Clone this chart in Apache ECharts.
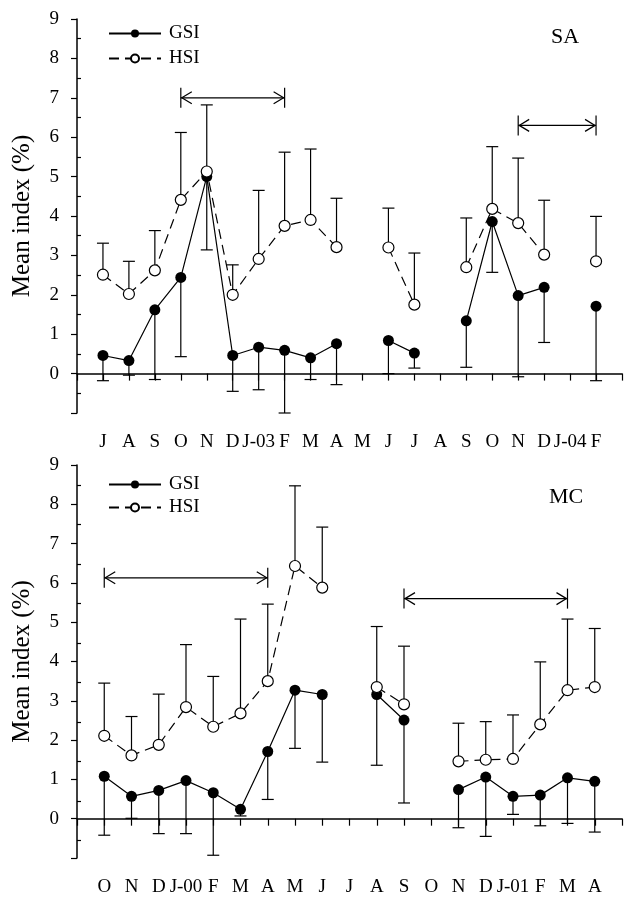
<!DOCTYPE html>
<html lang="en">
<head>
    <meta charset="UTF-8">
    <title>Mean index SA / MC</title>
    <script src="https://cdn.jsdelivr.net/npm/echarts@6.0.0/dist/echarts.min.js"></script>
    <style>
        html, body { margin: 0; padding: 0; background: #fff; }
        #chart { width: 625px; height: 897px; }
    </style>
</head>
<body>
    <div id="chart"></div>

    <script>
        // SA panel: Jul 2002 - Feb 2004
        var catsSA = ['J', 'A', 'S', 'O', 'N', 'D', 'J-03', 'F', 'M', 'A', 'M', 'J', 'J', 'A', 'S', 'O', 'N', 'D', 'J-04', 'F'];
        var gsiSA = [0.46, 0.33, 1.62, 2.44, 5.0, 0.46, 0.67, 0.59, 0.40, 0.76, null, 0.84, 0.52, null, 1.34, 3.86, 1.98, 2.19, null, 1.71];
        var gsiLowSA = [-0.18, -0.04, -0.15, 0.43, 3.14, -0.45, -0.41, -1.0, -0.15, -0.28, null, 0.0, 0.14, null, 0.16, 2.57, -0.08, 0.79, null, -0.18];
        var hsiSA = [2.51, 2.02, 2.62, 4.41, 5.13, 2.0, 2.91, 3.75, 3.9, 3.21, null, 3.2, 1.75, null, 2.7, 4.18, 3.82, 3.02, null, 2.85];
        var hsiUpSA = [3.31, 2.85, 3.63, 6.12, 6.82, 2.76, 4.65, 5.62, 5.70, 4.45, null, 4.2, 3.06, null, 3.95, 5.76, 5.47, 4.4, null, 3.99];
        // spawning periods: [from index, to index, level]
        var periodsSA = [[4, 8, 7.0], [17, 20, 6.3]];

        // MC panel: Oct 1999 - Apr 2001
        var catsMC = ['O', 'N', 'D', 'J-00', 'F', 'M', 'A', 'M', 'J', 'J', 'A', 'S', 'O', 'N', 'D', 'J-01', 'F', 'M', 'A'];
        var gsiMC = [1.08, 0.57, 0.72, 0.97, 0.66, 0.24, 1.71, 3.27, 3.16, null, 3.16, 2.51, null, 0.74, 1.06, 0.57, 0.6, 1.04, 0.95];
        var gsiLowMC = [-0.42, 0.01, -0.38, -0.38, -0.93, 0.07, 0.49, 1.79, 1.44, null, 1.36, 0.4, null, -0.23, -0.45, 0.11, -0.18, -0.12, -0.34];
        var hsiMC = [2.11, 1.61, 1.88, 2.84, 2.34, 2.68, 3.5, 6.43, 5.88, null, 3.35, 2.91, null, 1.46, 1.5, 1.52, 2.4, 3.27, 3.35];
        var hsiUpMC = [3.45, 2.6, 3.17, 4.43, 3.62, 5.08, 5.46, 8.47, 7.42, null, 4.89, 4.39, null, 2.43, 2.47, 2.64, 3.99, 5.08, 4.84];
        var periodsMC = [[1, 7, 6.13], [12, 18, 5.6]];

        var yTicks = { min: -1, max: 9, interval: 1 };

        var FONT = '"Liberation Serif", "Times New Roman", serif';
        var chart = echarts.init(document.getElementById('chart'));

        function pairs(vals) {
            return vals.map(function (v, i) { return [i + 1, v == null ? '-' : v]; });
        }
        function errData(mean, end) {
            var out = [];
            mean.forEach(function (v, i) {
                if (v != null && end[i] != null) out.push([i + 1, v, end[i]]);
            });
            return out;
        }

        function renderErr(params, api) {
            var p0 = api.coord([api.value(0), api.value(1)]);
            var p1 = api.coord([api.value(0), api.value(2)]);
            var st = { stroke: '#000', lineWidth: 1.2 };
            return {
                type: 'group',
                children: [
                    { type: 'line', shape: { x1: p0[0], y1: p0[1], x2: p1[0], y2: p1[1] }, style: st },
                    { type: 'line', shape: { x1: p1[0] - 6, y1: p1[1], x2: p1[0] + 6, y2: p1[1] }, style: st }
                ]
            };
        }

        function renderArrow(params, api) {
            var a = api.coord([api.value(0), api.value(2)]);
            var b = api.coord([api.value(1), api.value(2)]);
            var st = { stroke: '#000', lineWidth: 1.2, fill: 'none' };
            return {
                type: 'group',
                children: [
                    { type: 'line', shape: { x1: a[0], y1: a[1], x2: b[0], y2: b[1] }, style: st },
                    { type: 'line', shape: { x1: a[0], y1: a[1] - 10, x2: a[0], y2: a[1] + 10 }, style: st },
                    { type: 'line', shape: { x1: b[0], y1: b[1] - 10, x2: b[0], y2: b[1] + 10 }, style: st },
                    { type: 'polyline', shape: { points: [[a[0] + 11, a[1] - 6], [a[0] + 1, a[1]], [a[0] + 11, a[1] + 6]] }, style: st },
                    { type: 'polyline', shape: { points: [[b[0] - 11, b[1] - 6], [b[0] - 1, b[1]], [b[0] - 11, b[1] + 6]] }, style: st }
                ]
            };
        }

        function panelSeries(idx, gsi, gsiLow, hsi, hsiUp, periods) {
            return [
                {
                    type: 'custom', xAxisIndex: idx, yAxisIndex: idx, z: 1,
                    renderItem: renderErr, encode: { x: 0, y: [1, 2] },
                    data: errData(gsi, gsiLow), silent: true
                },
                {
                    type: 'custom', xAxisIndex: idx, yAxisIndex: idx, z: 1,
                    renderItem: renderErr, encode: { x: 0, y: [1, 2] },
                    data: errData(hsi, hsiUp), silent: true
                },
                {
                    type: 'custom', xAxisIndex: idx, yAxisIndex: idx, z: 1,
                    renderItem: renderArrow, encode: { x: [0, 1], y: 2 },
                    data: periods, silent: true
                },
                {
                    name: 'GSI', type: 'line', xAxisIndex: idx, yAxisIndex: idx, z: 3,
                    data: pairs(gsi),
                    symbol: 'circle', symbolSize: 11,
                    itemStyle: { color: '#000' },
                    lineStyle: { color: '#000', width: 1.2 }
                },
                {
                    name: 'HSI', type: 'line', xAxisIndex: idx, yAxisIndex: idx, z: 4,
                    data: pairs(hsi),
                    symbol: 'circle', symbolSize: 11,
                    itemStyle: { color: '#fff', borderColor: '#000', borderWidth: 1.2 },
                    lineStyle: { color: '#000', width: 1.2, type: [10, 6] }
                }
            ];
        }

        function xAxisFor(idx, cats) {
            return {
                type: 'value', gridIndex: idx,
                min: 0, max: cats.length + 1, interval: 1,
                splitLine: { show: false },
                axisLine: { lineStyle: { color: '#000', width: 1.5 } },
                axisTick: { length: 7, lineStyle: { color: '#000', width: 1.2 } },
                axisLabel: {
                    margin: 20, color: '#000', fontFamily: FONT, fontSize: 19,
                    formatter: function (v) { return cats[v - 1] || ''; }
                }
            };
        }

        function yAxisFor(idx) {
            return {
                type: 'value', gridIndex: idx,
                min: yTicks.min, max: yTicks.max, interval: yTicks.interval,
                name: 'Mean index (%)', nameLocation: 'middle', nameGap: 42,
                nameTextStyle: { color: '#000', fontFamily: FONT, fontSize: 25 },
                splitLine: { show: false },
                axisLine: { lineStyle: { color: '#000', width: 1.5 } },
                axisTick: { length: 6, lineStyle: { color: '#000', width: 1.2 } },
                axisLabel: {
                    margin: 18, color: '#000', fontFamily: FONT, fontSize: 19,
                    formatter: function (v) { return v === -1 ? '' : v; }
                }
            };
        }

        // invisible axes that only carry the inward half-unit ticks
        function minorY(idx) {
            return {
                type: 'value', gridIndex: idx,
                min: yTicks.min + 0.5, max: yTicks.max - 0.5, interval: 1,
                splitLine: { show: false }, axisLine: { show: false }, axisLabel: { show: false },
                axisTick: { inside: true, length: 4, lineStyle: { color: '#000', width: 1.2 } }
            };
        }
        function hiddenX(idx) {
            return { type: 'value', gridIndex: idx, min: 0, max: 1, show: false };
        }

        var g1 = { top: 19, height: 394 };
        var g2 = { top: 465, height: 395 };
        var u1 = g1.height / 10, u2 = g2.height / 10;

        function legendAt(top, gap) {
            return {
                orient: 'vertical', left: 103, top: top,
                itemWidth: 52, itemHeight: 10, itemGap: gap,
                selectedMode: false,
                data: ['GSI', 'HSI'],
                textStyle: { color: '#000', fontFamily: FONT, fontSize: 19, padding: [0, 0, 0, 3] }
            };
        }

        var option = {
            animation: false,
            backgroundColor: '#fff',
            grid: [
                { left: 77, width: 546, top: g1.top, height: g1.height },
                { left: 77, width: 546, top: g2.top, height: g2.height },
                { left: 77, width: 546, top: g1.top + u1 / 2, height: u1 * 9 },
                { left: 77, width: 546, top: g2.top + u2 / 2, height: u2 * 9 }
            ],
            xAxis: [xAxisFor(0, catsSA), xAxisFor(1, catsMC), hiddenX(2), hiddenX(3)],
            yAxis: [yAxisFor(0), yAxisFor(1), minorY(2), minorY(3)],
            legend: [legendAt(19, 6), legendAt(470, 4)],
            graphic: [
                { type: 'text', x: 565, y: 37, style: { text: 'SA', fill: '#000', font: '22px ' + FONT, align: 'center', verticalAlign: 'middle' } },
                { type: 'text', x: 566, y: 497, style: { text: 'MC', fill: '#000', font: '22px ' + FONT, align: 'center', verticalAlign: 'middle' } }
            ],
            series: panelSeries(0, gsiSA, gsiLowSA, hsiSA, hsiUpSA, periodsSA)
                .concat(panelSeries(1, gsiMC, gsiLowMC, hsiMC, hsiUpMC, periodsMC))
        };

        chart.setOption(option);
    </script>
</body>
</html>
